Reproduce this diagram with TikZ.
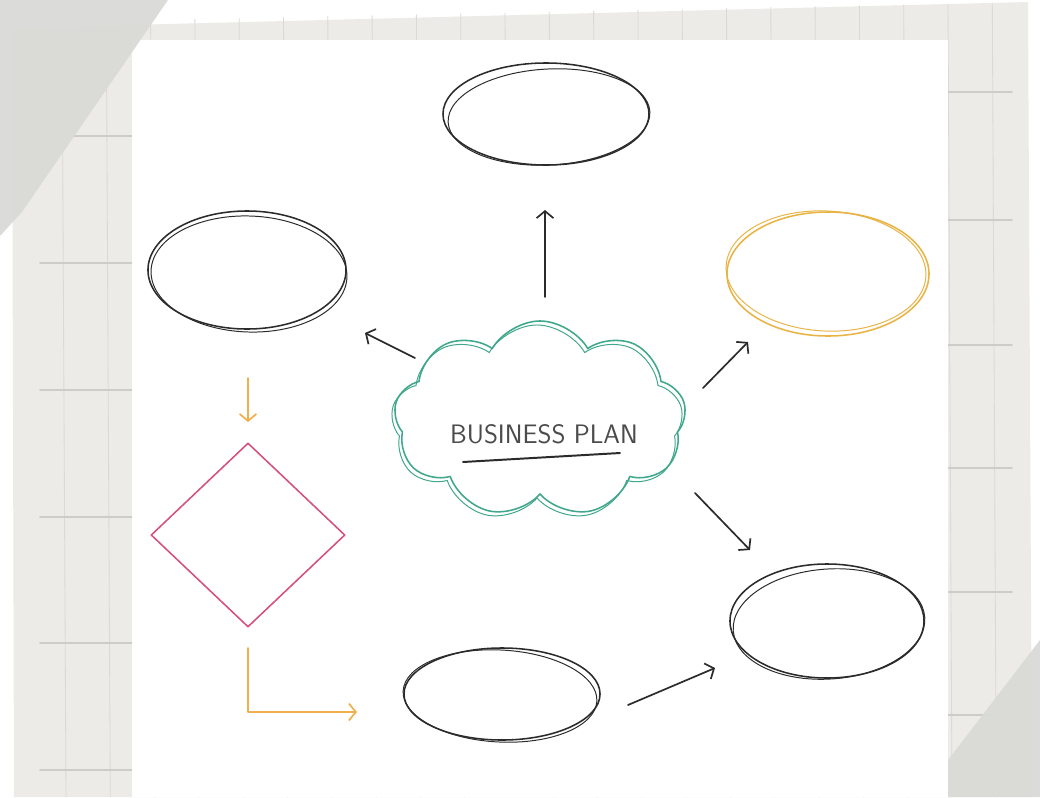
\documentclass[tikz,border=0pt]{standalone}
\usepackage{tikz}
\usetikzlibrary{arrows.meta,shapes.geometric,shapes.symbols}

\definecolor{ink}{HTML}{2B2B2B}
\definecolor{amber}{HTML}{E9B446}
\definecolor{marker}{HTML}{F0B04C}
\definecolor{teal}{HTML}{3FA78B}
\definecolor{rose}{HTML}{D6507C}
\definecolor{paper}{HTML}{ECEBE7}
\definecolor{rule}{HTML}{DAD9D5}
\definecolor{stub}{HTML}{CDCCC8}
\definecolor{tape}{HTML}{DADAD7}

\tikzset{
  bubble/.style={ellipse, draw=ink, line width=1.1pt, inner sep=0pt},
  sketch/.style={draw=ink, line width=0.7pt},
  puff/.style={cloud, cloud puffs=9, cloud puff arc=120, aspect=1.5, draw=teal, line width=1.1pt, inner sep=0pt,
    minimum width=7.3cm, minimum height=4.9cm},
  pointer/.style={->, draw=ink, line width=1.2pt},
  flow/.style={->, draw=marker, line width=1.2pt}
}

\begin{document}
\begin{tikzpicture}[line cap=round,line join=round,>={Straight Barb[length=5pt,width=12pt]},x=0.025cm,y=-0.025cm]
\useasboundingbox (0,0) rectangle (1040,797);
\fill[white] (0,0) rectangle (1040,797);
% paper sheet
\fill[paper] (12,28) -- (1028,2) -- (1032,797) -- (14,797) -- cycle;
\foreach \i in {0,...,21}
  \draw[rule, line width=0.6pt] ({62+44.3*\i},{22-\i*0.9}) -- ({66+44.3*\i},797);
\foreach \y in {136,263,390,517,643,770}
  \draw[stub, line width=1.2pt] (40,\y) -- (132,\y);
\foreach \y in {92,220,345,468,592,715}
  \draw[stub, line width=1.2pt] (948,\y) -- (1012,\y);
% card
\fill[white] (132,40) rectangle (948,797);
% tape
\fill[tape, opacity=0.95] (0,0) -- (168,0) -- (22,212) -- (0,236) -- cycle;
\fill[tape, opacity=0.95] (1040,640) -- (948,760) -- (948,797) -- (1040,797) -- cycle;

% ovals
\node[bubble, minimum width=5.15cm, minimum height=2.55cm] (topoval) at (546,114) {};
\draw[sketch] ([shift={(3,3)}]topoval.center) ellipse [x radius=101, y radius=48, rotate=3];
\node[bubble, minimum width=4.95cm, minimum height=2.95cm] (leftoval) at (247,270) {};
\draw[sketch] ([shift={(2,4)}]leftoval.center) ellipse [x radius=98, y radius=58, rotate=-2];
\node[bubble, draw=amber, minimum width=5.05cm, minimum height=3.1cm] (rightoval) at (828,274) {};
\draw[sketch, draw=amber] ([shift={(-2,-3)}]rightoval.center) ellipse [x radius=100, y radius=60, rotate=-3];
\node[bubble, minimum width=4.85cm, minimum height=2.85cm] (lowoval) at (827,621) {};
\draw[sketch] ([shift={(2,3)}]lowoval.center) ellipse [x radius=96, y radius=55, rotate=4];
\node[bubble, minimum width=4.9cm, minimum height=2.3cm] (baseoval) at (502,694) {};
\draw[sketch] ([shift={(-2,2)}]baseoval.center) ellipse [x radius=97, y radius=46, rotate=-3];

% decision
\node[diamond, draw=rose, line width=1.1pt, inner sep=0pt, minimum width=4.85cm, minimum height=4.6cm] (choice) at (248,535) {};

% cloud
\node[puff] (plan) at (540,419) {};
\node[puff, line width=0.7pt, shape border rotate=4] (planb) at (537,423) {};
\node[font=\fontsize{19}{19}\selectfont\sffamily, text=ink!85] (title) at (544,434) {BUSINESS PLAN};
\coordinate (ulineA) at (463,462);
\coordinate (ulineB) at (620,453);
\draw[ink, line width=1.4pt] (ulineA) -- (ulineB);

% arrows
\coordinate (upA) at (545,297);
\coordinate (upB) at (545,210);
\coordinate (nwA) at (415,358);
\coordinate (nwB) at (365,333);
\coordinate (neA) at (703,388);
\coordinate (neB) at (748,342);
\coordinate (seA) at (695,493);
\coordinate (seB) at (750,550);
\coordinate (baseA) at (628,705);
\coordinate (baseB) at (715,668);
\draw[pointer] (upA) -- (upB);
\draw[pointer] (nwA) -- (nwB);
\draw[pointer] (neA) -- (neB);
\draw[pointer] (seA) -- (seB);
\draw[pointer] (baseA) -- (baseB);
\coordinate (dropA) at (248,378);
\coordinate (dropB) at (248,422);
\coordinate (bendA) at (248,648);
\coordinate (bendB) at (357,712);
\draw[flow] (dropA) -- (dropB);
\draw[flow] (bendA) |- (bendB);
\end{tikzpicture}
\end{document}
